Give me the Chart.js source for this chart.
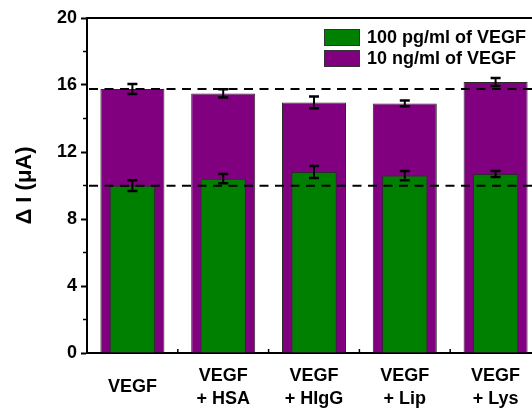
<!DOCTYPE html>
<html>
<head>
<meta charset="utf-8">
<script src="https://cdn.jsdelivr.net/npm/chart.js@4"></script>
<style>
  body { margin: 0; background: #fff; }
  #wrap { width: 532px; height: 408px; overflow: hidden; position: relative; }
</style>
</head>
<body>
<div id="wrap"><canvas id="myChart" width="541" height="408"></canvas></div>
<script>
const labels = ['VEGF', ['VEGF', '+ HSA'], ['VEGF', '+ HIgG'], ['VEGF', '+ Lip'], ['VEGF', '+ Lys']];
const lowLabel = '100 pg/ml of VEGF';
const highLabel = '10 ng/ml of VEGF';
const lowValues = [9.99, 10.41, 10.81, 10.59, 10.69];
const lowErrors = [0.32, 0.28, 0.36, 0.27, 0.18];
const highValues = [15.76, 15.50, 14.96, 14.90, 16.18];
const highErrors = [0.30, 0.25, 0.35, 0.17, 0.24];
const refLines = [highValues[0], lowValues[0]];
const yTicks = [0, 4, 8, 12, 16, 20];

const FONT = 'Arial, "Liberation Sans", sans-serif';
const errors = [lowErrors, highErrors];

// error bars, dashed reference lines, frame, minor ticks, legend
const extras = {
    id: 'extras',
    afterDatasetsDraw(chart) {
        const ctx = chart.ctx;
        const y = chart.scales.y;
        const area = chart.chartArea;
        ctx.save();
        ctx.strokeStyle = '#000';

        ctx.lineWidth = 2;
        ctx.setLineDash([9, 6.5]);
        refLines.forEach((v) => {
            const py = y.getPixelForValue(v);
            ctx.beginPath();
            ctx.moveTo(area.left + 2, py);
            ctx.lineTo(area.right, py);
            ctx.stroke();
        });
        ctx.setLineDash([]);

        chart.data.datasets.forEach((ds, di) => {
            const meta = chart.getDatasetMeta(di);
            meta.data.forEach((bar, i) => {
                const top = y.getPixelForValue(ds.data[i] + errors[di][i]);
                const bot = y.getPixelForValue(ds.data[i] - errors[di][i]);
                ctx.lineWidth = 2;
                ctx.beginPath();
                ctx.moveTo(bar.x, top);
                ctx.lineTo(bar.x, bot);
                ctx.stroke();
                ctx.lineWidth = 2.5;
                ctx.beginPath();
                ctx.moveTo(bar.x - 5, top);
                ctx.lineTo(bar.x + 5, top);
                ctx.moveTo(bar.x - 5, bot);
                ctx.lineTo(bar.x + 5, bot);
                ctx.stroke();
            });
        });
        ctx.restore();
    },
    afterDraw(chart) {
        const ctx = chart.ctx;
        const y = chart.scales.y;
        const x = chart.scales.x;
        const area = chart.chartArea;
        ctx.save();
        ctx.strokeStyle = '#000';

        // top frame line
        ctx.lineWidth = 2;
        ctx.beginPath();
        ctx.moveTo(area.left - 1, area.top);
        ctx.lineTo(area.right, area.top);
        ctx.stroke();

        // minor ticks on y
        ctx.lineWidth = 1.5;
        for (let v = 2; v < 20; v += 4) {
            const py = y.getPixelForValue(v);
            ctx.beginPath();
            ctx.moveTo(area.left - 4, py);
            ctx.lineTo(area.left, py);
            ctx.stroke();
        }
        // small ticks between categories on x
        for (let i = 1; i < labels.length; i++) {
            const px = (x.getPixelForValue(i - 1) + x.getPixelForValue(i)) / 2;
            ctx.beginPath();
            ctx.moveTo(px, area.bottom);
            ctx.lineTo(px, area.bottom - 4);
            ctx.stroke();
        }

        // legend
        ctx.font = 'bold 18px ' + FONT;
        ctx.textBaseline = 'middle';
        ctx.textAlign = 'left';
        chart.data.datasets.forEach((ds, i) => {
            const bx = 324, by = 29 + i * 21;
            ctx.fillStyle = ds.backgroundColor;
            ctx.fillRect(bx, by, 36, 17);
            ctx.lineWidth = 1;
            ctx.strokeStyle = '#333';
            ctx.strokeRect(bx + 0.5, by + 0.5, 35, 16);
            ctx.fillStyle = '#000';
            ctx.fillText(ds.label, 367, by + 9);
        });
        ctx.restore();
    }
};

function createChart() {
    const ctx = document.getElementById('myChart');
    new Chart(ctx, {
        type: 'bar',
        data: {
            labels: labels,
            datasets: [
                {
                    label: lowLabel,
                    data: lowValues,
                    backgroundColor: '#008000',
                    borderColor: '#2a2a2a',
                    borderWidth: 1,
                    barPercentage: 0.5,
                    categoryPercentage: 1
                },
                {
                    label: highLabel,
                    data: highValues,
                    backgroundColor: '#800080',
                    borderColor: '#2a2a2a',
                    borderWidth: 1,
                    barPercentage: 0.705,
                    categoryPercentage: 1
                }
            ]
        },
        options: {
            responsive: false,
            animation: false,
            datasets: { bar: { grouped: false } },
            layout: { padding: { top: 18, right: 0, bottom: 0, left: 0 } },
            plugins: {
                legend: { display: false },
                tooltip: { enabled: false }
            },
            scales: {
                x: {
                    grid: { display: false },
                    border: { display: true, color: '#000', width: 2 },
                    ticks: {
                        color: '#000',
                        padding: 15,
                        maxRotation: 0,
                        autoSkip: false,
                        crossAlign: 'center',
                        font: { family: FONT, size: 18, weight: 'bold', lineHeight: 1.28 }
                    },
                    afterFit(scale) { scale.height = 55; }
                },
                y: {
                    min: 0,
                    max: 20,
                    ticks: {
                        stepSize: 2,
                        color: '#000',
                        padding: 4,
                        font: { family: FONT, size: 18, weight: 'bold' },
                        callback: (v) => yTicks.includes(v) ? v : ''
                    },
                    grid: {
                        drawOnChartArea: false,
                        tickLength: 6,
                        tickWidth: 2,
                        tickColor: (c) => yTicks.includes(c.tick.value) ? '#000' : 'rgba(0,0,0,0)'
                    },
                    border: { display: true, color: '#000', width: 2 },
                    title: {
                        display: true,
                        text: 'Δ I (μA)',
                        color: '#000',
                        padding: { top: 12, bottom: 0 },
                        font: { family: FONT, size: 22, weight: 'bold' }
                    },
                    afterFit(scale) { scale.width = 87; }
                }
            }
        },
        plugins: [extras]
    });
}

createChart();
</script>
</body>
</html>
